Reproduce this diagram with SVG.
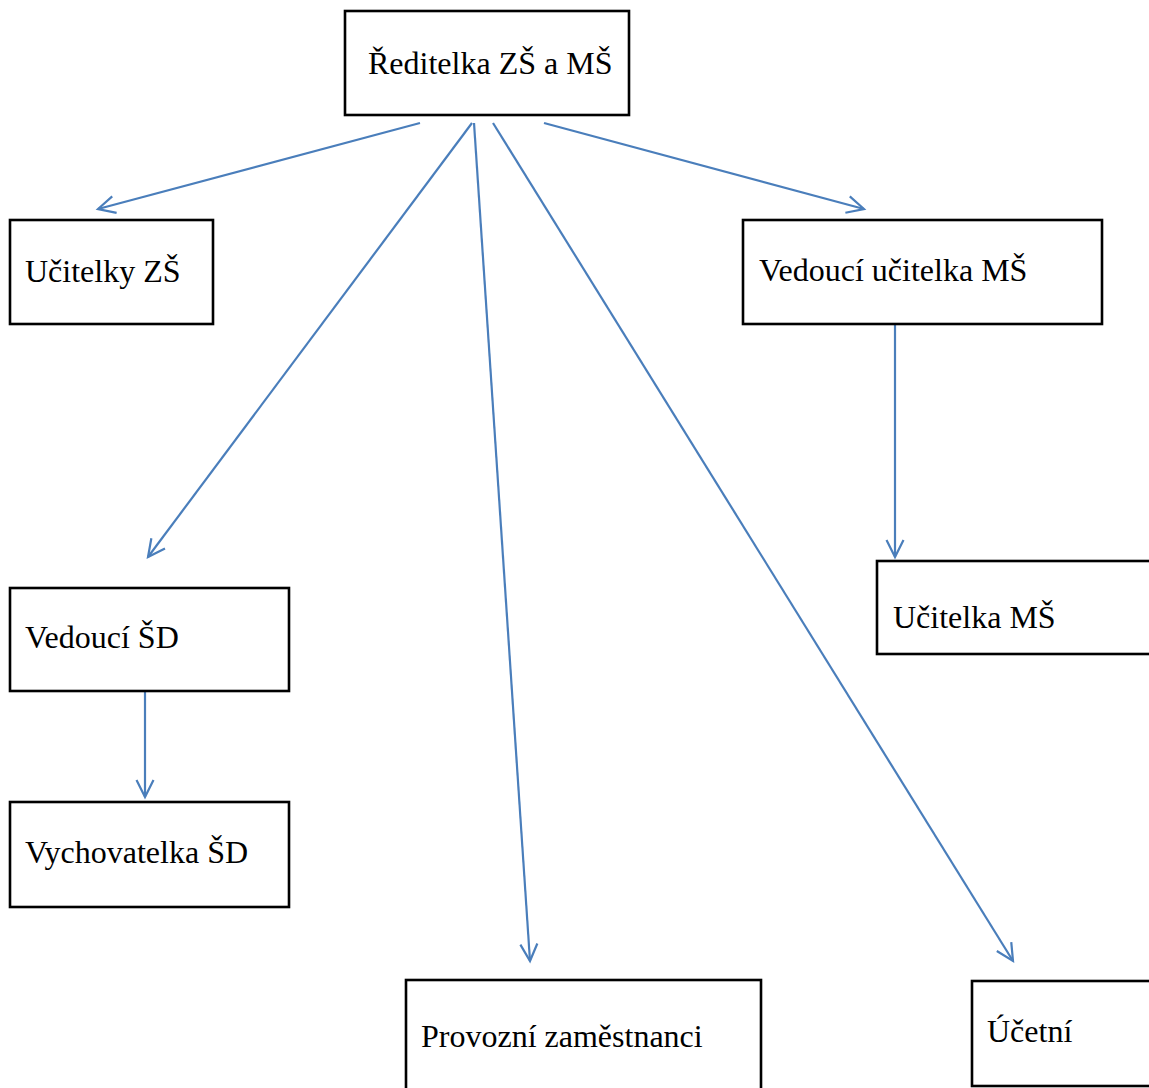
<svg xmlns="http://www.w3.org/2000/svg" width="1149" height="1088" viewBox="0 0 1149 1088">
<style>
.box{fill:#fff;stroke:#000;stroke-width:2.6}
.lbl{font-family:"Liberation Serif","Times New Roman",serif;font-size:32px;fill:#000}
.con{fill:none;stroke:#4a7ebb;stroke-width:2.2}
</style>
<defs>
<marker id="ah" markerUnits="userSpaceOnUse" markerWidth="24" markerHeight="24" refX="18" refY="10" orient="auto" viewBox="0 0 24 20">
<path d="M1,1.5 L18,10 L1,18.5" fill="none" stroke="#4a7ebb" stroke-width="2.2"/>
</marker>
</defs>
<rect width="1149" height="1088" fill="#fff"/>
<g id="connectors">
<line class="con" x1="420" y1="123" x2="98" y2="209" marker-end="url(#ah)"/>
<line class="con" x1="472" y1="123" x2="148" y2="557" marker-end="url(#ah)"/>
<line class="con" x1="474" y1="123" x2="530" y2="961" marker-end="url(#ah)"/>
<line class="con" x1="493" y1="123" x2="1013" y2="961" marker-end="url(#ah)"/>
<line class="con" x1="544" y1="123" x2="864" y2="209" marker-end="url(#ah)"/>
<line class="con" x1="895" y1="325" x2="895" y2="557" marker-end="url(#ah)"/>
<line class="con" x1="145" y1="692" x2="145" y2="797" marker-end="url(#ah)"/>
</g>
<g id="n-reditelka">
<rect class="box" x="345" y="11" width="284" height="104"/>
<text class="lbl" x="368" y="74">Ředitelka ZŠ a MŠ</text>
</g>
<g id="n-ucitelky-zs">
<rect class="box" x="10" y="220" width="203" height="104"/>
<text class="lbl" x="25" y="282">Učitelky ZŠ</text>
</g>
<g id="n-vedouci-ms">
<rect class="box" x="743" y="220" width="359" height="104"/>
<text class="lbl" x="759" y="281">Vedoucí učitelka MŠ</text>
</g>
<g id="n-ucitelka-ms">
<rect class="box" x="877" y="561" width="290" height="93"/>
<text class="lbl" x="893" y="628">Učitelka MŠ</text>
</g>
<g id="n-vedouci-sd">
<rect class="box" x="10" y="588" width="279" height="103"/>
<text class="lbl" x="25" y="648">Vedoucí ŠD</text>
</g>
<g id="n-vychovatelka">
<rect class="box" x="10" y="802" width="279" height="105"/>
<text class="lbl" x="25" y="863">Vychovatelka ŠD</text>
</g>
<g id="n-provozni">
<rect class="box" x="406" y="980" width="355" height="130"/>
<text class="lbl" x="421" y="1047">Provozní zaměstnanci</text>
</g>
<g id="n-ucetni">
<rect class="box" x="972" y="981" width="200" height="105"/>
<text class="lbl" x="987" y="1042">Účetní</text>
</g>
</svg>
